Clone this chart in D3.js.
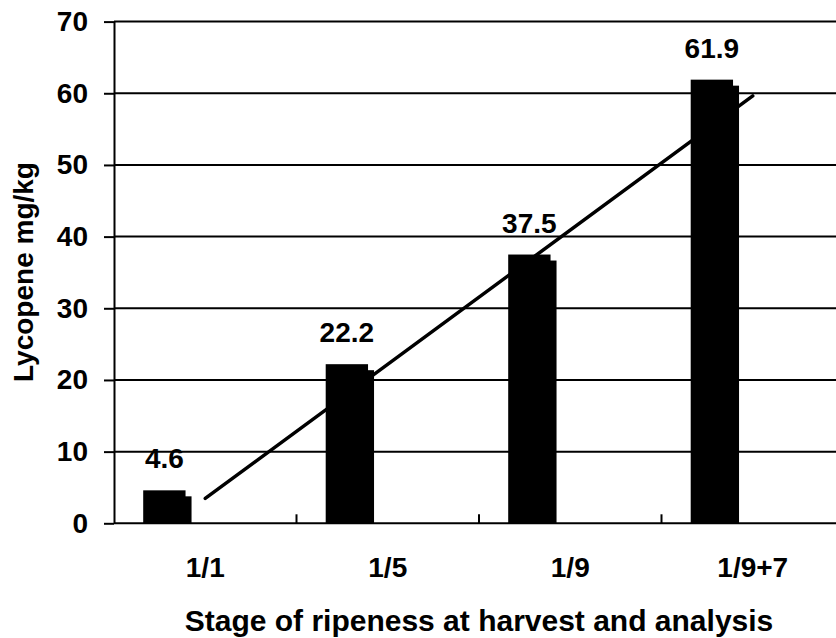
<!DOCTYPE html>
<html>
<head>
<meta charset="utf-8">
<script src="https://cdn.jsdelivr.net/npm/d3@7"></script>
<style>
  body { margin: 0; background: #fff; }
  text { font-family: "Liberation Sans", Arial, sans-serif; font-weight: bold; fill: #000; }
</style>
</head>
<body>
<div id="chart"></div>
<script>
// Data
const stages = ['1/1', '1/5', '1/9', '1/9+7'];
const lycopene = [4.6, 22.2, 37.5, 61.9];
const yTicks = [0, 10, 20, 30, 40, 50, 60, 70];

const width = 836, height = 638;
const margin = { top: 21.6, left: 114, bottom: 523.3 };
const plotRight = 844;

const svg = d3.select('#chart')
    .append('svg')
    .attr('width', width)
    .attr('height', height);

const x = d3.scaleBand()
    .domain(stages)
    .range([margin.left, plotRight])
    .padding(0);

const y = d3.scaleLinear()
    .domain([0, 70])
    .range([margin.bottom, margin.top]);

// Gridlines
svg.append('g')
    .selectAll('line')
    .data(yTicks.filter(d => d > 0))
    .join('line')
    .attr('x1', margin.left)
    .attr('x2', plotRight)
    .attr('y1', d => y(d))
    .attr('y2', d => y(d))
    .attr('stroke', '#000')
    .attr('stroke-width', 2);

// Bars with a small offset shadow (3-D look)
const barOffset = x.bandwidth() * 0.16;
const barWidth = x.bandwidth() * 0.232;
const shadow = 6;

svg.append('g')
    .selectAll('rect')
    .data(lycopene)
    .join('rect')
    .attr('x', (d, i) => x(stages[i]) + barOffset + shadow)
    .attr('y', d => y(d) + shadow)
    .attr('width', barWidth)
    .attr('height', d => y(0) - y(d) - shadow)
    .attr('fill', '#000');

svg.append('g')
    .selectAll('rect')
    .data(lycopene)
    .join('rect')
    .attr('x', (d, i) => x(stages[i]) + barOffset)
    .attr('y', d => y(d))
    .attr('width', barWidth)
    .attr('height', d => y(0) - y(d))
    .attr('fill', '#000');

// Value labels
svg.append('g')
    .selectAll('text')
    .data(lycopene)
    .join('text')
    .attr('x', (d, i) => x(stages[i]) + barOffset + barWidth / 2)
    .attr('y', d => y(d) - 22)
    .attr('text-anchor', 'middle')
    .style('font-size', '28px')
    .text(d => d);

// Linear trend line (least squares over the bar values)
const xs = lycopene.map((d, i) => i + 1);
const mx = d3.mean(xs), my = d3.mean(lycopene);
const slope = d3.sum(xs, (v, i) => (v - mx) * (lycopene[i] - my)) / d3.sum(xs, v => (v - mx) ** 2);
const intercept = my - slope * mx;
const trend = [1, stages.length].map(v => [v, intercept + slope * v]);

svg.append('path')
    .datum(trend)
    .attr('fill', 'none')
    .attr('stroke', '#000')
    .attr('stroke-width', 3.5)
    .attr('stroke-linecap', 'round')
    .attr('d', d3.line()
        .x(d => x(stages[d[0] - 1]) + x.bandwidth() / 2)
        .y(d => y(d[1])));

// Y axis
const yAxis = svg.append('g')
    .attr('transform', `translate(${margin.left},0)`)
    .call(d3.axisLeft(y).tickValues(yTicks).tickSize(10).tickPadding(16).tickSizeOuter(0));
yAxis.selectAll('path, line').attr('stroke', '#000').attr('stroke-width', 2);
yAxis.selectAll('text').style('font-size', '28px').style('font-family', null);

// X axis (ticks between categories, pointing inward)
svg.append('line')
    .attr('x1', margin.left)
    .attr('x2', plotRight)
    .attr('y1', y(0))
    .attr('y2', y(0))
    .attr('stroke', '#000')
    .attr('stroke-width', 2);

svg.append('g')
    .selectAll('line')
    .data(stages.slice(1))
    .join('line')
    .attr('x1', d => x(d))
    .attr('x2', d => x(d))
    .attr('y1', y(0))
    .attr('y2', y(0) - 9)
    .attr('stroke', '#000')
    .attr('stroke-width', 2);

svg.append('g')
    .selectAll('text')
    .data(stages)
    .join('text')
    .attr('x', d => x(d) + x.bandwidth() / 2)
    .attr('y', 577)
    .attr('text-anchor', 'middle')
    .style('font-size', '28px')
    .text(d => d);

// Axis titles
svg.append('text')
    .attr('x', (margin.left + plotRight) / 2)
    .attr('y', 631)
    .attr('text-anchor', 'middle')
    .style('font-size', '30px')
    .text('Stage of ripeness at harvest and analysis');

svg.append('text')
    .attr('transform', 'rotate(-90)')
    .attr('x', -272)
    .attr('y', 33)
    .attr('text-anchor', 'middle')
    .style('font-size', '28px')
    .text('Lycopene mg/kg');
</script>
</body>
</html>
